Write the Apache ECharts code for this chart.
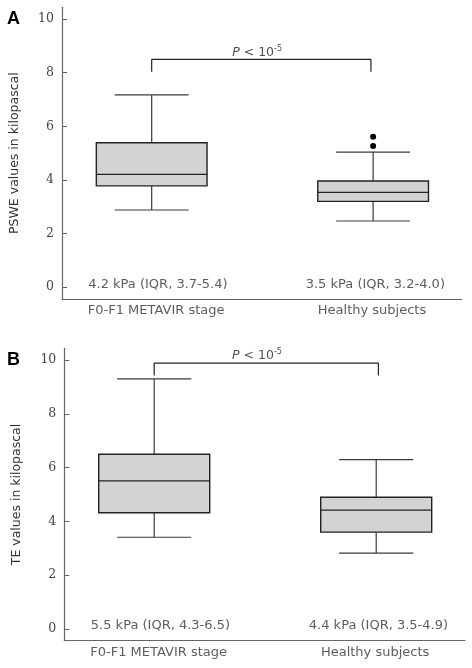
<!DOCTYPE html>
<html><head><meta charset="utf-8">
<script src="https://cdn.jsdelivr.net/npm/echarts@6/dist/echarts.min.js"></script>
<style>html,body{margin:0;padding:0;background:#fff}#c{width:472px;height:668px}</style>
</head><body><div id="c"></div>
<script>
// ---- data ----
const categories = ['F0-F1 METAVIR stage', 'Healthy subjects'];
const categoryPos = [1, 2];
const yTicks = [0, 2, 4, 6, 8, 10];
// [min, Q1, median, Q3, max]
const psweBoxes = [[2.88, 3.78, 4.21, 5.39, 7.17], [2.47, 3.20, 3.54, 3.96, 5.04]];
const psweOutliers = [[2, 5.27], [2, 5.61]];
const teBoxes = [[3.41, 4.32, 5.51, 6.50, 9.30], [2.82, 3.60, 4.42, 4.90, 6.30]];
const teOutliers = [];
const psweNotes = ['4.2 kPa (IQR, 3.7-5.4)', '3.5 kPa (IQR, 3.2-4.0)'];
const teNotes = ['5.5 kPa (IQR, 4.3-6.5)', '4.4 kPa (IQR, 3.5-4.9)'];
const notePos = [[1.028, 0.11], [2.01, 0.11]];
const catLabelPos = [1.02, 1.995];
const psweBracket = [[1, 8.04], [1, 8.5], [1.99, 8.5], [1.99, 8.04]];
const teBracket = [[1, 9.43], [1, 9.89], [2.01, 9.89], [2.01, 9.43]];
const psweP = [1.476, 8.76];
const teP = [1.463, 10.18];

// ---- chart ----
const chart = echarts.init(document.getElementById('c'), null, {renderer: 'canvas'});
const SANS = 'DejaVu Sans';

function renderBox(params, api) {
  const x = api.value(0);
  const lo = api.coord([x, api.value(1)]);
  const q1 = api.coord([x, api.value(2)]);
  const md = api.coord([x, api.value(3)]);
  const q3 = api.coord([x, api.value(4)]);
  const hi = api.coord([x, api.value(5)]);
  const unit = api.size([1, 0])[0];
  const bh = unit * 0.25, ch = unit * 0.167;
  const cx = lo[0];
  const ws = {stroke: '#3a3a3a', lineWidth: 1.2};
  return {type: 'group', children: [
    {type: 'line', shape: {x1: cx, y1: lo[1], x2: cx, y2: q1[1]}, style: ws},
    {type: 'line', shape: {x1: cx, y1: q3[1], x2: cx, y2: hi[1]}, style: ws},
    {type: 'line', shape: {x1: cx - ch, y1: lo[1], x2: cx + ch, y2: lo[1]}, style: ws},
    {type: 'line', shape: {x1: cx - ch, y1: hi[1], x2: cx + ch, y2: hi[1]}, style: ws},
    {type: 'rect', shape: {x: cx - bh, y: q3[1], width: 2 * bh, height: q1[1] - q3[1]},
      style: {fill: '#d3d3d3', stroke: '#222', lineWidth: 1.4}},
    {type: 'line', shape: {x1: cx - bh, y1: md[1], x2: cx + bh, y2: md[1]}, style: {stroke: '#222', lineWidth: 1.3}}
  ]};
}

const grids = [
  {left: 61.3, top: 7.3, width: 400.4, height: 291.7},
  {left: 64.3, top: 348.3, width: 400.7, height: 292.4}
];
const panels = [
  {name: 'PSWE values in kilopascal', boxes: psweBoxes, outliers: psweOutliers, notes: psweNotes, bracket: psweBracket, p: psweP},
  {name: 'TE values in kilopascal', boxes: teBoxes, outliers: teOutliers, notes: teNotes, bracket: teBracket, p: teP}
];

const xAxes = [], yAxes = [], series = [];
panels.forEach((pn, g) => {
  xAxes.push({
    gridIndex: g, type: 'value', min: 0.595, max: 2.4,
    axisLine: {show: true, onZero: false, lineStyle: {color: '#666', width: 1.2}},
    axisTick: {show: false}, splitLine: {show: false},
    axisLabel: {show: false}
  });
  yAxes.push({
    gridIndex: g, type: 'value', min: -0.44, max: 10.44,
    name: pn.name, nameLocation: 'middle', nameGap: 41,
    nameTextStyle: {fontFamily: SANS, fontSize: 12.5, color: '#333'},
    axisLine: {show: true, onZero: false, lineStyle: {color: '#666', width: 1.2}},
    axisTick: {show: true, inside: true, length: 5, customValues: yTicks, lineStyle: {color: '#666'}},
    splitLine: {show: false},
    axisLabel: {customValues: yTicks, margin: 8, fontFamily: 'DejaVu Serif', fontSize: 12.5, color: '#444'}
  });
  series.push({
    type: 'custom', xAxisIndex: g, yAxisIndex: g, renderItem: renderBox,
    encode: {x: 0, y: [1, 2, 3, 4, 5]},
    data: pn.boxes.map((b, i) => [categoryPos[i]].concat(b)), silent: true
  });
  series.push({
    type: 'scatter', xAxisIndex: g, yAxisIndex: g, symbolSize: 6,
    itemStyle: {color: '#000', opacity: 1}, data: pn.outliers, silent: true
  });
  series.push({
    type: 'line', xAxisIndex: g, yAxisIndex: g, data: pn.bracket, symbol: 'none',
    lineStyle: {color: '#222', width: 1.2}, silent: true
  });
  series.push({
    type: 'scatter', xAxisIndex: g, yAxisIndex: g, symbolSize: 0, silent: true,
    data: notePos,
    label: {show: true, position: 'inside', fontFamily: SANS, fontSize: 13, color: '#333',
      formatter: p => pn.notes[p.dataIndex]}
  });
  // category labels below the x axis line
  series.push({
    type: 'scatter', xAxisIndex: g, yAxisIndex: g, symbolSize: 0, silent: true,
    data: catLabelPos.map(x => [x, -0.44]),
    label: {show: true, position: 'bottom', distance: 5, fontFamily: SANS, fontSize: 13, color: '#333',
      formatter: p => categories[p.dataIndex]}
  });
  series.push({
    type: 'scatter', xAxisIndex: g, yAxisIndex: g, symbolSize: 0, silent: true,
    data: [pn.p],
    label: {show: true, position: 'inside', formatter: '{i|P} < 10{s|-5}',
      fontFamily: SANS, fontSize: 12.5, color: '#222',
      rich: {i: {fontStyle: 'italic', fontFamily: SANS, fontSize: 12.5, color: '#222'},
             s: {fontFamily: SANS, fontSize: 8, color: '#222', padding: [0, 0, 7, 0]}}}
  });
});

chart.setOption({
  animation: false,
  backgroundColor: '#fff',
  grid: grids,
  xAxis: xAxes,
  yAxis: yAxes,
  series: series,
  graphic: [
    {type: 'text', left: 7, top: 10, style: {text: 'A', font: 'bold 18px "Liberation Sans"', fill: '#000'}},
    {type: 'text', left: 7, top: 351, style: {text: 'B', font: 'bold 18px "Liberation Sans"', fill: '#000'}}
  ]
});
</script></body></html>
